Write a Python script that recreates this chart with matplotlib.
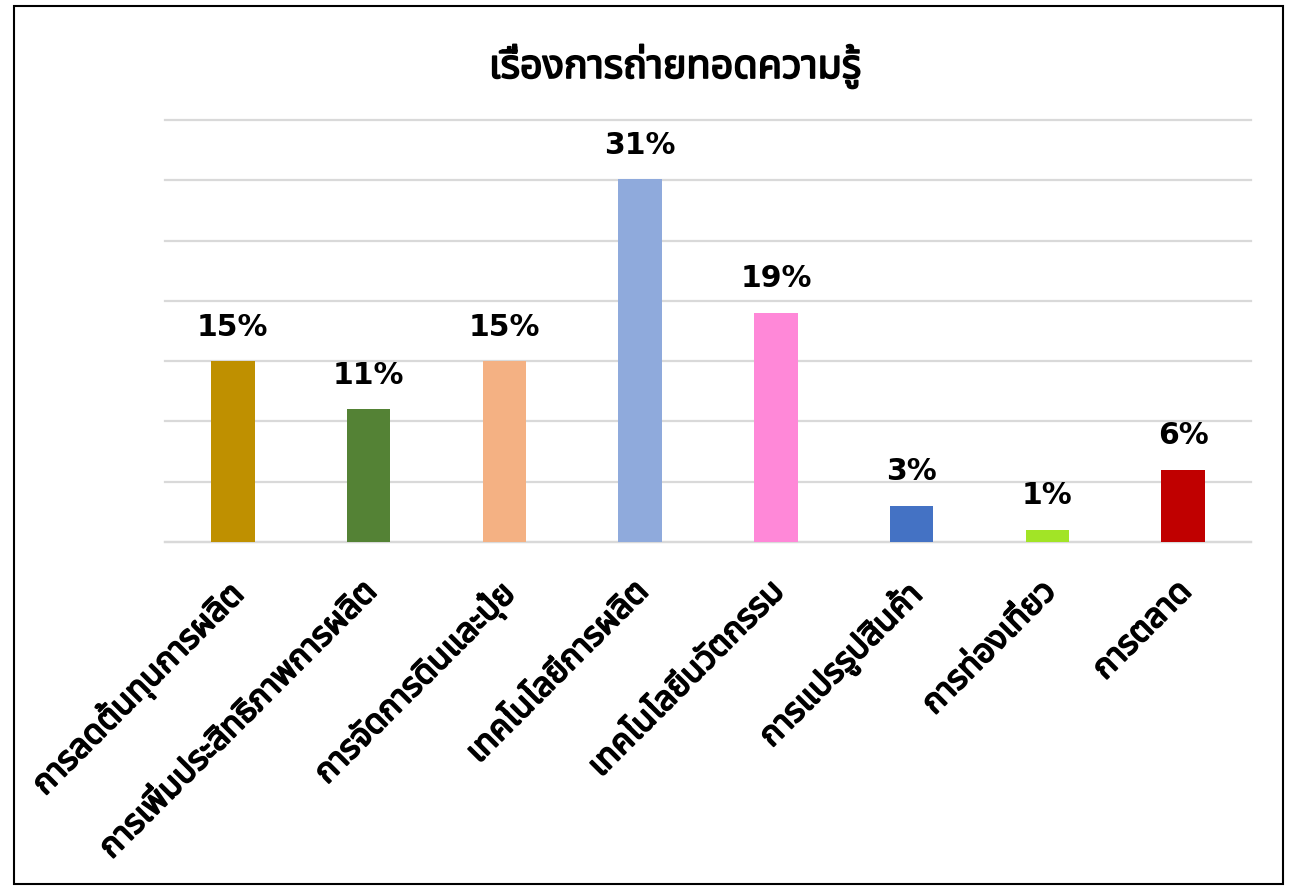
import matplotlib
matplotlib.use("Agg")
import matplotlib.pyplot as plt
import matplotlib.patheffects as pe
import matplotlib.transforms as mtransforms
from matplotlib import font_manager
from matplotlib.ft2font import FT2Font
from matplotlib.patches import Rectangle

categories = [
    "การลดต้นทุนการผลิต",
    "การเพิ่มประสิทธิภาพการผลิต",
    "การจัดการดินและปุ๋ย",
    "เทคโนโลยีการผลิต",
    "เทคโนโลยีนวัตกรรม",
    "การแปรรูปสินค้า",
    "การท่องเที่ยว",
    "การตลาด",
]
# bar heights as drawn (percent) and the labels printed above them
values = [15, 11, 15, 30.1, 19, 3, 1, 6]
value_labels = ["15%", "11%", "15%", "31%", "19%", "3%", "1%", "6%"]
colors = ["#BF9000", "#548235", "#F4B183", "#8FAADC", "#FF88D8", "#4472C4", "#A2E426", "#C00000"]
title = "เรื่องการถ่ายทอดความรู้"


def find_thai_family():
    """Pick an installed family that has Thai glyphs."""
    found = []
    for path in font_manager.findSystemFonts():
        try:
            cmap = FT2Font(path).get_charmap()
        except Exception:
            continue
        if 0x0E01 in cmap and 0x0E32 in cmap:
            found.append(font_manager.FontProperties(fname=path).get_name())
    for p in ["Noto Sans Thai", "Noto Sans Thai UI", "Noto Sans", "DejaVu Sans"]:
        if p in found:
            return p
    return found[0] if found else "DejaVu Sans"


thai = find_thai_family()
heavy = [pe.withStroke(linewidth=1.3, foreground="black")]

fig = plt.figure(figsize=(12.94, 8.86), dpi=100)
ax = fig.add_axes([0.1275, 0.3883, 0.8393, 0.4763])

x = list(range(len(values)))
ax.bar(x, values, width=0.32, color=colors, zorder=3)
for i, (v, lab) in enumerate(zip(values, value_labels)):
    ax.annotate(lab, (i, v), xytext=(0, 14), textcoords="offset points",
                ha="center", va="bottom", fontsize=21.5, fontweight="bold",
                family="DejaVu Sans", color="black")

ax.set_xlim(-0.5, len(values) - 0.5)
ax.set_ylim(0, 35)
ax.set_yticks(range(0, 36, 5))
ax.yaxis.grid(True, color="#D9D9D9", linewidth=1.6, zorder=0)
for gl in ax.yaxis.get_gridlines():
    gl.set_clip_on(False)
ax.tick_params(axis="y", length=0, labelleft=False)
ax.tick_params(axis="x", length=0, pad=24)
ax.set_xticks(x)
ax.set_xticklabels(categories, rotation=45, ha="right", rotation_mode="anchor",
                   fontsize=24, family=[thai, "DejaVu Sans"])
shift = mtransforms.ScaledTranslation(-8 / 100, 0, fig.dpi_scale_trans)
for t in ax.get_xticklabels():
    t.set_path_effects(heavy)
    t.set_transform(t.get_transform() + shift)
for s in ["top", "right", "left"]:
    ax.spines[s].set_visible(False)
ax.spines["bottom"].set_color("#D9D9D9")
ax.spines["bottom"].set_linewidth(1.6)

fig.text(0.522, 0.925, title, ha="center", va="center", fontsize=28.5,
         family=[thai, "DejaVu Sans"], path_effects=heavy)

fig.patches.append(Rectangle((14 / 1294, 2 / 886), 1269 / 1294, 878 / 886,
                             transform=fig.transFigure, fill=False,
                             edgecolor="black", linewidth=1.5))

fig.savefig("out.png", dpi=100)
